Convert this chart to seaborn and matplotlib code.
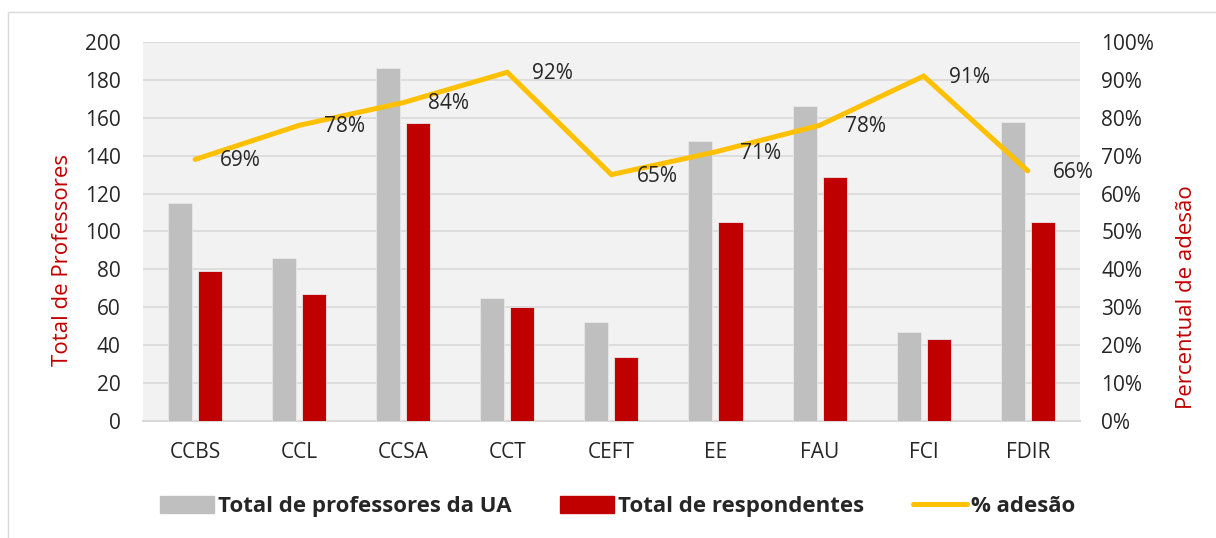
import seaborn as sns
import matplotlib.pyplot as plt
from matplotlib.patches import Rectangle
from matplotlib.ticker import PercentFormatter
import pandas as pd
import numpy as np

unidades = ['CCBS', 'CCL', 'CCSA', 'CCT', 'CEFT', 'EE', 'FAU', 'FCI', 'FDIR']
total_prof = [115, 86, 186, 65, 52, 148, 166, 47, 158]
total_resp = [79, 67, 157, 60, 34, 105, 129, 43, 105]
adesao = [69, 78, 84, 92, 65, 71, 78, 91, 66]

serie_prof = 'Total de professores da UA'
serie_resp = 'Total de respondentes'
serie_ades = '% adesão'

sns.set_style('white')
plt.rcParams['font.family'] = ['Open Sans', 'DejaVu Sans']

df = pd.DataFrame({'unidade': unidades, serie_prof: total_prof, serie_resp: total_resp})
df = df.melt(id_vars='unidade', var_name='serie', value_name='valor')

fig = plt.figure(figsize=(12.16, 5.38), dpi=100)
ax = fig.add_axes([0.1176, 0.2175, 0.7704, 0.7045])
ax.set_facecolor('#F2F2F2')
# moldura cinza do grafico
fig.patches.append(Rectangle((8 / 1216, -0.1), 1.2, 1 - 12 / 538 + 0.1, transform=fig.transFigure,
                             fill=False, edgecolor='#D9D9D9', linewidth=1))

sns.barplot(data=df, x='unidade', y='valor', hue='serie', ax=ax,
            palette=['#BFBFBF', '#C00000'], saturation=1, width=0.577, gap=0.2,
            edgecolor='#E8E8E8', linewidth=0.6, legend=False, zorder=3)
ax.set_ylim(0, 200)
ax.set_yticks(range(0, 201, 20))
ax.yaxis.grid(True, color='#D9D9D9', linewidth=1.2, zorder=0)
ax.set_axisbelow(True)
for s in ['top', 'right', 'left']:
    ax.spines[s].set_visible(False)
ax.spines['bottom'].set_color('#D9D9D9')
ax.spines['bottom'].set_linewidth(1.5)
ax.tick_params(axis='both', length=0, labelsize=15, colors='#262626')
ax.tick_params(axis='y', pad=16)
ax.tick_params(axis='x', pad=15)
ax.set_xlabel('')
ax.set_ylabel('Total de Professores', color='#C00000', fontsize=16)
ax.yaxis.set_label_coords(-0.0864, 0.425)
ax.yaxis.label.set_va('center')
ax.set_xlim(-0.5, len(unidades) - 0.5)

ax2 = ax.twinx()
pos = np.arange(len(unidades))
sns.lineplot(x=pos, y=adesao, ax=ax2, color='#FFC000', linewidth=3.6,
             solid_capstyle='round', solid_joinstyle='miter')
ax2.set_ylim(0, 100)
ax2.set_yticks(range(0, 101, 10))
ax2.yaxis.set_major_formatter(PercentFormatter(decimals=0))
for s in ax2.spines.values():
    s.set_visible(False)
ax2.tick_params(axis='y', length=0, labelsize=15, colors='#262626', pad=15.5)
ax2.set_ylabel('Percentual de adesão', color='#C00000', fontsize=16)
ax2.yaxis.set_label_coords(1.114, 0.326)
ax2.yaxis.label.set_va('center')
for x, v in zip(pos, adesao):
    ax2.annotate(f'{v}%', (x, v), xytext=(18, -1), textcoords='offset points',
                 ha='left', va='center', fontsize=15, color='#262626')

handles = [Rectangle((0, 0), 1, 1, color='#BFBFBF'),
           Rectangle((0, 0), 1, 1, color='#C00000'),
           plt.Line2D([0], [0], color='#FFC000', linewidth=3.6, solid_capstyle='round')]
fig.legend(handles, [serie_prof, serie_resp, serie_ades], loc='center',
           bbox_to_anchor=(0.508, 0.058), ncol=3, frameon=False,
           prop={'weight': 'bold', 'size': 16}, handlelength=2.4, handleheight=0.8,
           handletextpad=0.2, columnspacing=2.2)

fig.savefig('out.png', dpi=100)
